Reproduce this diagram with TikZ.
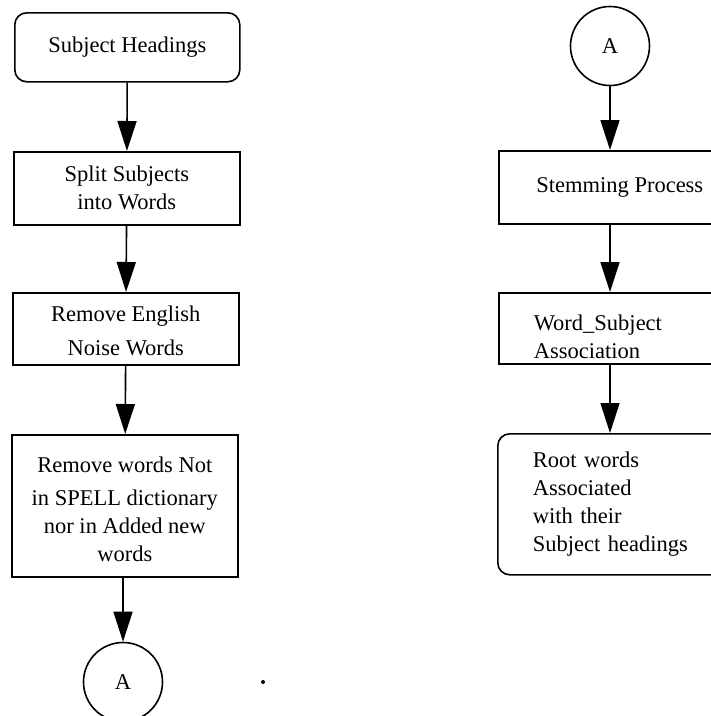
\documentclass[tikz,border=0pt]{standalone}
\usepackage{fontspec}
\setmainfont{Liberation Serif}
\usetikzlibrary{arrows.meta}
\begin{document}
\begin{tikzpicture}[x=1pt,y=-1pt,
  every node/.style={font=\fontsize{22.5}{28}\selectfont},
  boxnode/.style={draw, line width=1.6pt, inner sep=0pt, anchor=north west, align=center},
  roundbox/.style={boxnode, rounded corners=12pt},
  conn/.style={circle, draw, line width=1.6pt, minimum size=79pt, inner sep=0pt},
  arr/.style={line width=1.6pt, -{Triangle[width=19pt,length=30pt]}}]
\clip (0,0) rectangle (711,716);
\useasboundingbox (0,0) rectangle (711,716);
% left column
\node[roundbox, minimum width=225pt, minimum height=69pt] (sh) at (14,12) {Subject Headings};
\node[boxnode, minimum width=226pt, minimum height=73pt] (split) at (13,151) {Split Subjects\\into Words};
\node[boxnode, minimum width=226pt, minimum height=72pt] (reng) at (12,292) {\parbox{226pt}{\centering\vspace*{4pt}Remove English\\[6pt]Noise Words}};
\node[boxnode, minimum width=226pt, minimum height=142pt] (rnot) at (11,434) {\parbox{226pt}{\centering\vspace*{6pt}Remove words Not\\[5pt]in SPELL dictionary\\nor in Added new\\words}};
\node[conn] (la) at (123,682) {A};
\fill (263,682) circle (2pt);
\draw[arr] (sh) -- (split);
\draw[arr] (split) -- (reng);
\draw[arr] (reng) -- (rnot);
\draw[arr] (rnot.south -| la) -- (la);
% right column
\node[conn] (ra) at (610,46) {A};
\node[boxnode, minimum width=242pt, minimum height=73pt] (stem) at (498,150) {Stemming Process};
\node[boxnode, minimum width=242pt, minimum height=71pt, inner xsep=35pt, align=left] (ws) at (498,292) {\parbox{172pt}{\vspace*{16pt}Word\_Subject\\Association}};
\node[roundbox, minimum width=242pt, minimum height=141pt, text width=172pt, inner xsep=35pt, align=left] (root) at (497,433) {Root words\\Associated\\with their\\Subject headings};
\draw[arr] (ra) -- (ra |- stem.north);
\draw[arr] (ra |- stem.south) -- (ra |- ws.north);
\draw[arr] (ra |- ws.south) -- (ra |- root.north);
\end{tikzpicture}
\end{document}
